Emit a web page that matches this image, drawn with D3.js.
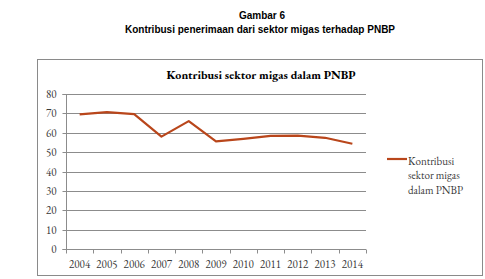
<!DOCTYPE html>
<html>
<head>
<meta charset="utf-8">
<title>Kontribusi sektor migas</title>
<style>
  body { margin: 0; background: #fff; }
  svg { display: block; }
</style>
</head>
<body>
<div id="chart"></div>
<script src="https://cdn.jsdelivr.net/npm/d3@7"></script>
<script>
  let years = ['2004', '2005', '2006', '2007', '2008', '2009', '2010', '2011', '2012', '2013', '2014'];
  let values = [69.5, 70.6, 69.6, 58.0, 66.0, 55.5, 56.8, 58.4, 58.5, 57.4, 54.3];
  let yTicks = [0, 10, 20, 30, 40, 50, 60, 70, 80];
  let seriesName = 'Kontribusi sektor migas dalam PNBP';

  let svgWidth = 485, svgHeight = 279;
  let serif = "'EB Garamond', Garamond, 'Liberation Serif', 'DejaVu Serif', serif";

  function translate(x, y) {
    return 'translate(' + x + ', ' + y + ')';
  }

  let svg = d3.select('#chart')
    .append('svg')
      .attr('width', svgWidth)
      .attr('height', svgHeight);

  // heading above the chart box
  svg.append('text')
    .attr('x', 262).attr('y', 19)
    .attr('text-anchor', 'middle')
    .style('font-family', "'Liberation Sans', Arial, sans-serif")
    .style('font-weight', 'bold')
    .style('font-size', '10px')
    .text('Gambar 6');
  svg.append('text')
    .attr('x', 260).attr('y', 33)
    .attr('text-anchor', 'middle')
    .style('font-family', "'Liberation Sans', Arial, sans-serif")
    .style('font-weight', 'bold')
    .style('font-size', '10px')
    .text('Kontribusi penerimaan dari sektor migas terhadap PNBP');

  // chart frame
  svg.append('rect')
    .attr('x', 37.5).attr('y', 59.5)
    .attr('width', 445).attr('height', 216)
    .attr('fill', 'none')
    .attr('stroke', '#8a8a8a')
    .attr('stroke-width', 1);

  svg.append('text')
    .attr('x', 261).attr('y', 79)
    .attr('text-anchor', 'middle')
    .style('font-family', serif)
    .style('font-weight', 'bold')
    .style('font-size', '12px')
    .text(seriesName);

  let plot = {left: 66, right: 366, top: 94, bottom: 249};

  let x = d3.scaleBand()
    .domain(years)
    .range([plot.left, plot.right]);
  let y = d3.scaleLinear()
    .domain([0, 80])
    .range([plot.bottom, plot.top]);

  // gridlines
  svg.append('g')
    .selectAll('line')
    .data(yTicks.filter(d => d > 0))
    .enter()
    .append('line')
      .attr('x1', plot.left).attr('x2', plot.right)
      .attr('y1', d => Math.round(y(d)) + 0.5)
      .attr('y2', d => Math.round(y(d)) + 0.5)
      .attr('stroke', '#8c8c8c');

  // y axis
  let yAxis = d3.axisLeft(y).tickValues(yTicks).tickSize(4).tickPadding(6);
  let gy = svg.append('g')
    .attr('transform', translate(plot.left + 0.5, 0))
    .call(yAxis);
  gy.select('.domain').attr('d', 'M-4,' + (Math.round(plot.top) + 0.5) + 'H0V' + (Math.round(plot.bottom) + 0.5) + 'H-4').attr('stroke', '#8c8c8c');
  gy.selectAll('.tick line').attr('stroke', '#8c8c8c');
  gy.selectAll('.tick').attr('transform', d => translate(0, Math.round(y(d)) + 0.5));
  gy.selectAll('text')
    .style('font-family', serif)
    .style('font-size', '11px')
    .attr('fill', '#3a3a3a');

  // x axis with ticks between categories
  let gx = svg.append('g')
    .attr('transform', translate(0, Math.round(plot.bottom) + 0.5));
  gx.append('line')
    .attr('x1', plot.left).attr('x2', plot.right)
    .attr('stroke', '#8c8c8c');
  gx.selectAll('.tk')
    .data(years.concat(['end']))
    .enter()
    .append('line')
      .attr('x1', (d, i) => Math.round(plot.left + i * x.bandwidth()) + 0.5)
      .attr('x2', (d, i) => Math.round(plot.left + i * x.bandwidth()) + 0.5)
      .attr('y1', 0).attr('y2', 4)
      .attr('stroke', '#8c8c8c');
  gx.selectAll('.lbl')
    .data(years)
    .enter()
    .append('text')
      .attr('x', d => x(d) + x.bandwidth() / 2)
      .attr('y', 18)
      .attr('text-anchor', 'middle')
      .style('font-family', serif)
      .style('font-size', '11px')
      .attr('fill', '#3a3a3a')
      .text(d => d);

  // series line
  let line = d3.line()
    .x((d, i) => x(years[i]) + x.bandwidth() / 2)
    .y(d => y(d));
  svg.append('path')
    .datum(values)
    .attr('d', line)
    .attr('fill', 'none')
    .attr('stroke', '#b9461b')
    .attr('stroke-width', 2.2)
    .attr('stroke-linejoin', 'round');

  // legend
  let legend = svg.append('g').attr('transform', translate(387, 159));
  legend.append('line')
    .attr('x1', 0).attr('x2', 20)
    .attr('stroke', '#b9461b')
    .attr('stroke-width', 2.2);
  legend.append('text')
    .style('font-family', serif)
    .style('font-size', '11px')
    .attr('fill', '#3a3a3a')
    .selectAll('tspan')
    .data(['Kontribusi', 'sektor migas', 'dalam PNBP'])
    .enter()
    .append('tspan')
      .attr('x', 21)
      .attr('y', (d, i) => 5.5 + i * 14.5)
      .text(d => d);
</script>
</body>
</html>
